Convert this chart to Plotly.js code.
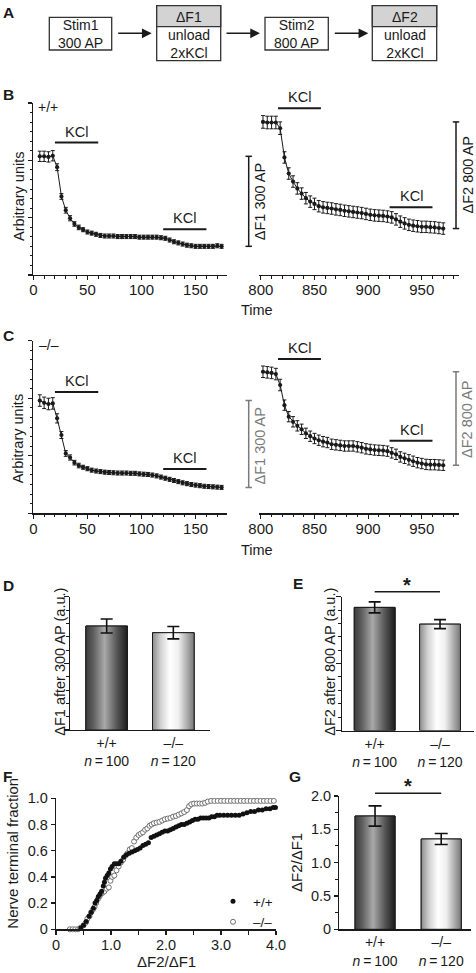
<!DOCTYPE html>
<html><head><meta charset="utf-8">
<script src="https://cdn.plot.ly/plotly-3.0.1.min.js"></script>
<style>html,body{margin:0;padding:0;background:#fff}</style>
</head><body><div id="chart" style="width:476px;height:973px"></div>
<script>
// ---------------- DATA ----------------
const timeStim1 = [6,10,14,18,22,26,30,34,38,42,46,50,54,58,62,66,70,74,78,82,86,90,94,98,102,106,110,114,118,122,126,130,134,138,142,146,150,154,158,162,166,170,174];
const timeStim2 = [802,806,810,814,818,822,826,830,834,838,842,846,850,854,858,862,866,870,874,878,882,886,890,894,898,902,906,910,914,918,922,926,930,934,938,942,946,950,954,958,962,966,970];

const wtStim1 = [2.07,2.07,2.06,2.08,1.88,1.37,1.13,0.99,0.89,0.83,0.79,0.75,0.73,0.71,0.69,0.68,0.68,0.68,0.67,0.67,0.67,0.67,0.67,0.66,0.66,0.66,0.66,0.66,0.65,0.64,0.61,0.58,0.56,0.54,0.52,0.51,0.50,0.50,0.50,0.50,0.50,0.51,0.50];
const wtStim1Err = [0.09,0.09,0.09,0.09,0.06,0.05,0.05,0.045,0.04,0.04,0.035,0.035,0.035,0.035,0.035,0.035,0.035,0.035,0.035,0.035,0.035,0.035,0.035,0.035,0.035,0.035,0.035,0.035,0.035,0.035,0.035,0.035,0.035,0.035,0.035,0.035,0.035,0.035,0.035,0.035,0.035,0.035,0.035];
const wtStim2 = [2.67,2.66,2.66,2.66,2.56,2.05,1.77,1.63,1.51,1.42,1.34,1.28,1.24,1.20,1.18,1.17,1.16,1.145,1.135,1.12,1.11,1.10,1.09,1.08,1.065,1.05,1.04,1.035,1.03,1.02,1.005,0.97,0.93,0.90,0.875,0.86,0.85,0.84,0.84,0.835,0.83,0.82,0.81];
const wtStim2Err = [0.11,0.11,0.11,0.11,0.11,0.10,0.10,0.10,0.10,0.10,0.10,0.10,0.10,0.10,0.10,0.10,0.10,0.10,0.10,0.10,0.10,0.10,0.10,0.10,0.10,0.10,0.10,0.10,0.10,0.10,0.10,0.10,0.10,0.10,0.10,0.10,0.10,0.10,0.10,0.10,0.10,0.10,0.10];

const koStim1 = [1.96,1.92,1.90,1.91,1.65,1.36,1.04,0.97,0.88,0.83,0.80,0.775,0.75,0.735,0.725,0.715,0.71,0.705,0.70,0.70,0.70,0.695,0.695,0.685,0.68,0.675,0.665,0.65,0.63,0.61,0.59,0.57,0.55,0.53,0.515,0.50,0.49,0.48,0.47,0.465,0.46,0.455,0.45];
const koStim1Err = [0.1,0.1,0.1,0.1,0.08,0.06,0.05,0.045,0.04,0.04,0.035,0.035,0.035,0.035,0.035,0.035,0.035,0.035,0.035,0.035,0.035,0.035,0.035,0.035,0.035,0.035,0.035,0.035,0.035,0.035,0.035,0.035,0.035,0.035,0.035,0.035,0.035,0.035,0.035,0.035,0.035,0.035,0.035];
const koStim2 = [2.46,2.45,2.44,2.42,2.23,1.88,1.68,1.59,1.52,1.46,1.39,1.34,1.30,1.27,1.245,1.23,1.20,1.19,1.18,1.17,1.17,1.17,1.155,1.14,1.12,1.11,1.10,1.095,1.09,1.08,1.05,1.025,0.98,0.955,0.93,0.905,0.88,0.865,0.85,0.845,0.845,0.84,0.835];
const koStim2Err = [0.1,0.1,0.1,0.1,0.1,0.09,0.09,0.09,0.09,0.09,0.09,0.09,0.09,0.09,0.09,0.09,0.09,0.09,0.09,0.09,0.09,0.09,0.09,0.09,0.09,0.09,0.09,0.09,0.09,0.09,0.09,0.09,0.09,0.09,0.09,0.09,0.09,0.09,0.09,0.09,0.09,0.09,0.09];

const genotypeLabels = ['+/+<br><i>n</i>\u2009=\u2009100', '\u2013/\u2013<br><i>n</i>\u2009=\u2009120'];
const dF1Mean = [1.56, 1.46];
const dF1Err = [0.105, 0.093];
const dF2Mean = [1.84, 1.59];
const dF2Err = [0.082, 0.067];
const ratioMean = [1.70, 1.355];
const ratioErr = [0.152, 0.083];

const wtRatioX = [0.45,0.50,0.55,0.60,0.64,0.68,0.71,0.74,0.77,0.80,0.83,0.86,0.88,0.90,0.93,0.96,0.99,1.02,1.06,1.10,1.14,1.18,1.23,1.28,1.33,1.38,1.43,1.48,1.53,1.58,1.63,1.68,1.73,1.78,1.83,1.88,1.93,1.98,2.03,2.08,2.13,2.18,2.23,2.28,2.33,2.38,2.43,2.48,2.53,2.58,2.63,2.68,2.73,2.78,2.83,2.88,2.93,2.98,3.05,3.12,3.19,3.26,3.33,3.40,3.47,3.54,3.61,3.68,3.75,3.82,3.89,3.95,3.99];
const wtFraction = [0.01,0.03,0.06,0.10,0.13,0.16,0.20,0.22,0.25,0.27,0.29,0.33,0.36,0.39,0.41,0.43,0.46,0.48,0.50,0.50,0.50,0.52,0.55,0.57,0.58,0.59,0.60,0.61,0.62,0.64,0.65,0.66,0.70,0.71,0.72,0.73,0.74,0.75,0.75,0.76,0.77,0.78,0.79,0.80,0.80,0.81,0.82,0.83,0.84,0.84,0.85,0.85,0.85,0.85,0.86,0.86,0.87,0.87,0.87,0.87,0.87,0.87,0.87,0.88,0.89,0.90,0.90,0.91,0.91,0.92,0.92,0.93,0.93];
const koRatioX = [0.25,0.30,0.35,0.40,0.44,0.50,0.54,0.57,0.61,0.64,0.67,0.70,0.73,0.76,0.79,0.82,0.85,0.88,0.92,0.96,0.99,1.02,1.06,1.10,1.14,1.18,1.22,1.26,1.30,1.34,1.38,1.42,1.46,1.50,1.54,1.58,1.62,1.66,1.70,1.74,1.78,1.83,1.88,1.93,1.98,2.03,2.08,2.13,2.18,2.23,2.28,2.33,2.38,2.42,2.46,2.51,2.56,2.61,2.66,2.71,2.76,2.82,2.88,2.94,3.00,3.06,3.12,3.18,3.24,3.30,3.36,3.42,3.48,3.54,3.60,3.66,3.72,3.78,3.84,3.90,3.96];
const koFraction = [0,0,0,0,0.01,0.03,0.05,0.08,0.10,0.13,0.15,0.17,0.20,0.23,0.25,0.27,0.28,0.29,0.31,0.32,0.37,0.40,0.41,0.45,0.48,0.51,0.53,0.56,0.58,0.61,0.62,0.67,0.70,0.72,0.73,0.74,0.76,0.77,0.79,0.80,0.81,0.815,0.82,0.83,0.84,0.845,0.85,0.86,0.865,0.875,0.885,0.895,0.91,0.94,0.955,0.96,0.96,0.96,0.96,0.965,0.975,0.98,0.98,0.98,0.98,0.98,0.98,0.98,0.98,0.98,0.98,0.98,0.98,0.98,0.98,0.98,0.98,0.98,0.98,0.98,0.98];

// ---------------- HELPERS ----------------
const W = 476, H = 973;
const px = x => x / W;
const py = y => 1 - y / H;
const FF = 'Liberation Sans, Arial, Helvetica, sans-serif';
const INK = '#1a1a1a';

function axis(extra) {
  return Object.assign({
    showline: true, linecolor: INK, linewidth: 1.2,
    ticks: 'outside', ticklen: 5, tickwidth: 1.2, tickcolor: INK,
    showgrid: false, zeroline: false, fixedrange: true,
    tickfont: {family: FF, size: 15, color: INK}
  }, extra);
}
function minorTicks(d, len) {
  return {dtick: d, ticks: 'outside', ticklen: len || 3, tickwidth: 1, tickcolor: INK, showgrid: false};
}
function timeTrace(x, y, e, xa, ya) {
  return {type: 'scatter', mode: 'lines+markers', x: x, y: y, xaxis: xa, yaxis: ya,
    line: {color: INK, width: 1}, marker: {color: INK, size: 4.2},
    error_y: {type: 'data', array: e, visible: true, color: INK, thickness: 1, width: 2},
    showlegend: false, cliponaxis: false, hoverinfo: 'skip'};
}
const gradWT = [[0, '#3c3c3c'], [0.18, '#5e5e5e'], [0.45, '#a9a9a9'], [0.75, '#555555'], [1, '#1c1c1c']];
const gradKO = [[0, '#8c8c8c'], [0.2, '#d2d2d2'], [0.42, '#ffffff'], [0.62, '#f0f0f0'], [1, '#777777']];
function barSet(xa, ya, means, errs, w, errWidth) {
  const out = [];
  out.push({type: 'bar', x: [0, 1], y: means, width: [w, w], xaxis: xa, yaxis: ya,
    marker: {color: ['#777777', '#e6e6e6'], line: {color: INK, width: 1}},
    showlegend: false, hoverinfo: 'skip'});
  [gradWT, gradKO].forEach((cs, i) => {
    out.push({type: 'scatter', mode: 'lines', xaxis: xa, yaxis: ya,
      x: [i - w / 2, i - w / 2, i + w / 2, i + w / 2, i - w / 2],
      y: [0, means[i], means[i], 0, 0],
      fill: 'toself', fillcolor: i ? '#e6e6e6' : '#777777',
      fillgradient: {type: 'horizontal', colorscale: cs},
      line: {color: INK, width: 1}, showlegend: false, hoverinfo: 'skip'});
  });
  out.push({type: 'scatter', mode: 'markers', x: [0, 1], y: means, xaxis: xa, yaxis: ya,
    marker: {size: 1, color: 'rgba(0,0,0,0)'},
    error_y: {type: 'data', array: errs, visible: true, color: '#111', thickness: 1.6, width: errWidth},
    showlegend: false, hoverinfo: 'skip', cliponaxis: false});
  return out;
}

// ---------------- TRACES ----------------
const traces = [
  timeTrace(timeStim1, wtStim1, wtStim1Err, 'x', 'y'),
  timeTrace(timeStim2, wtStim2, wtStim2Err, 'x2', 'y2'),
  timeTrace(timeStim1, koStim1, koStim1Err, 'x3', 'y3'),
  timeTrace(timeStim2, koStim2, koStim2Err, 'x4', 'y4'),
  ...barSet('x5', 'y5', dF1Mean, dF1Err, 0.625, 6),
  ...barSet('x6', 'y6', dF2Mean, dF2Err, 0.625, 6),
  {type: 'scatter', mode: 'markers', name: '\u2013/\u2013', x: koRatioX, y: koFraction, xaxis: 'x7', yaxis: 'y7',
    marker: {symbol: 'circle', size: 5, color: 'white', line: {color: '#707070', width: 1}},
    cliponaxis: false, legendrank: 2, hoverinfo: 'skip'},
  {type: 'scatter', mode: 'markers', name: '+/+', x: wtRatioX, y: wtFraction, xaxis: 'x7', yaxis: 'y7',
    marker: {symbol: 'circle', size: 5, color: '#111'},
    cliponaxis: false, legendrank: 1, hoverinfo: 'skip'},
  ...barSet('x8', 'y8', ratioMean, ratioErr, 0.605, 6.5)
];

// ---------------- LAYOUT ----------------
const yB = [py(275), py(103)];
const yC = [py(513.3), py(340.7)];
const xLeft = [px(33.3), px(227)];
const xRight = [px(258.7), px(459.3)];
const timeX = {ticklen: 4, ticklabelstandoff: -3, minor: minorTicks(10, 2.5)};

const layout = {
  width: W, height: H, margin: {l: 0, r: 0, t: 0, b: 0},
  paper_bgcolor: 'white', plot_bgcolor: 'rgba(0,0,0,0)',
  font: {family: FF, size: 14, color: INK},
  barmode: 'overlay', showlegend: true,
  legend: {x: px(213), xanchor: 'left', y: py(886), yanchor: 'top', bgcolor: 'rgba(0,0,0,0)',
    font: {family: FF, size: 13.5, color: INK}, itemwidth: 30, tracegroupgap: 0},

  xaxis:  axis(Object.assign({domain: xLeft, range: [0, 179], anchor: 'y', tickvals: [0, 50, 100, 150]}, timeX)),
  yaxis:  axis({domain: yB, range: [0, 3], anchor: 'x', dtick: 1, ticklen: 4, showticklabels: false, minor: minorTicks(1 / 6, 2.5)}),
  xaxis2: axis(Object.assign({domain: xRight, range: [798, 985], anchor: 'y2', tickvals: [800, 850, 900, 950]}, timeX)),
  yaxis2: {domain: yB, range: [0, 3], anchor: 'x2', visible: false, fixedrange: true},
  xaxis3: axis(Object.assign({domain: xLeft, range: [0, 179], anchor: 'y3', tickvals: [0, 50, 100, 150]}, timeX)),
  yaxis3: axis({domain: yC, range: [0, 3], anchor: 'x3', dtick: 1, ticklen: 4, showticklabels: false, minor: minorTicks(1 / 6, 2.5)}),
  xaxis4: axis(Object.assign({domain: xRight, range: [798, 985], anchor: 'y4', tickvals: [800, 850, 900, 950]}, timeX)),
  yaxis4: {domain: yC, range: [0, 3], anchor: 'x4', visible: false, fixedrange: true},

  xaxis5: axis({domain: [px(70), px(210)], range: [-0.55, 1.55], anchor: 'y5', ticks: '', tickvals: [0, 1], ticktext: genotypeLabels, tickfont: {family: FF, size: 14, color: INK}}),
  yaxis5: axis({domain: [py(730), py(596.7)], range: [0, 2], anchor: 'x5', dtick: 1, showticklabels: false, minor: minorTicks(0.2)}),
  xaxis6: axis({domain: [px(342), px(474)], range: [-0.5, 1.52], anchor: 'y6', ticks: '', tickvals: [0, 1], ticktext: genotypeLabels, tickfont: {family: FF, size: 14, color: INK}}),
  yaxis6: axis({domain: [py(730.5), py(596.7)], range: [0, 2], anchor: 'x6', dtick: 1, showticklabels: false, minor: minorTicks(0.2)}),

  xaxis7: axis({domain: [px(56), px(276)], range: [0, 4], anchor: 'y7',
    tickvals: [0, 0.5, 1, 1.5, 2, 2.5, 3, 3.5, 4], ticktext: ['0', '', '1.0', '', '2.0', '', '3.0', '', '4.0'], ticklen: 4,
    ticklabelstandoff: -2, tickfont: {family: FF, size: 14.5, color: INK}}),
  yaxis7: axis({domain: [py(929.3), py(798.3)], range: [0, 1], anchor: 'x7',
    tickvals: [0, 0.2, 0.4, 0.6, 0.8, 1], ticktext: ['0', '0.2', '0.4', '0.6', '0.8', '1.0'], ticklen: 4,
    tickfont: {family: FF, size: 14.5, color: INK}}),
  xaxis8: axis({domain: [px(339.3), px(471)], range: [-0.54, 1.45], anchor: 'y8', ticks: '', tickvals: [0, 1], ticktext: genotypeLabels, tickfont: {family: FF, size: 14, color: INK}}),
  yaxis8: axis({domain: [py(929.3), py(796)], range: [0, 2], anchor: 'x8',
    tickvals: [0, 0.5, 1, 1.5, 2], ticktext: ['0', '0.5', '1.0', '1.5', '2.0'], ticklen: 4,
    minor: minorTicks(0.25), tickfont: {family: FF, size: 14.5, color: INK}})
};

// ---------------- SHAPES ----------------
const shapes = [];
function pbox(x0, x1, y0, y1, fill) {
  shapes.push({type: 'rect', xref: 'paper', yref: 'paper', x0: px(x0), x1: px(x1), y0: py(y1), y1: py(y0),
    line: {color: '#333', width: 1.3}, fillcolor: fill || 'white'});
}
pbox(49.3, 111.7, 17.3, 50);
pbox(156.7, 220.7, 5.7, 60.7); pbox(156.7, 220.7, 5.7, 26.7, '#d3d3d3');
pbox(265, 328.3, 17.3, 50);
pbox(372.3, 436.7, 5.7, 60.7); pbox(372.3, 436.7, 5.7, 26.7, '#d3d3d3');

function kcl(xa, ya, x0, x1, y) {
  shapes.push({type: 'line', xref: xa, yref: ya, x0: x0, x1: x1, y0: y, y1: y, line: {color: INK, width: 2}});
}
kcl('x', 'y', 20, 60, 2.31); kcl('x', 'y', 120, 160, 0.80);
kcl('x2', 'y2', 816, 856, 2.91); kcl('x2', 'y2', 920, 960, 1.18);
kcl('x3', 'y3', 20, 60, 2.11); kcl('x3', 'y3', 120, 160, 0.77);
kcl('x4', 'y4', 816, 856, 2.68); kcl('x4', 'y4', 920, 960, 1.26);

// delta-F brackets (span first to last value of each trace)
function bracket(xPix, ya, top, bottom, color) {
  const xp = px(xPix), c = px(3.2);
  const l = {color: color, width: 1.5};
  shapes.push({type: 'line', xref: 'paper', yref: ya, x0: xp, x1: xp, y0: bottom, y1: top, line: l});
  shapes.push({type: 'line', xref: 'paper', yref: ya, x0: xp - c, x1: xp + c, y0: top, y1: top, line: l});
  shapes.push({type: 'line', xref: 'paper', yref: ya, x0: xp - c, x1: xp + c, y0: bottom, y1: bottom, line: l});
}
const last = a => a[a.length - 1];
bracket(248.7, 'y2', wtStim1[0], last(wtStim1), INK);
bracket(456, 'y2', wtStim2[0], last(wtStim2), INK);
bracket(248.7, 'y4', koStim1[0], last(koStim1), '#7a7a7a');
bracket(456, 'y4', koStim2[0], last(koStim2), '#7a7a7a');

// significance lines
shapes.push({type: 'line', xref: 'x6', yref: 'paper', x0: 0, x1: 1, y0: py(591.7), y1: py(591.7), line: {color: INK, width: 1.5}});
shapes.push({type: 'line', xref: 'x8', yref: 'paper', x0: 0, x1: 1, y0: py(793.3), y1: py(793.3), line: {color: INK, width: 1.5}});
layout.shapes = shapes;

// ---------------- ANNOTATIONS ----------------
const ann = [];
function txt(x, y, text, o) {
  o = o || {};
  ann.push(Object.assign({xref: 'paper', yref: 'paper', x: px(x), y: py(y), text: text, showarrow: false,
    xanchor: 'center', yanchor: 'middle',
    font: {family: FF, size: o.size || 14.5, color: o.color || INK}}, o.extra || {}));
}
function label(x, y, t) { txt(x, y, '<b>' + t + '</b>', {size: 15.5}); }
label(8, 13, 'A'); label(8, 94, 'B'); label(8, 335, 'C'); label(8, 585, 'D');
label(297.5, 583.5, 'E'); label(7.5, 776.5, 'F'); label(295, 776.5, 'G');

// panel A text
txt(80.5, 33.6, 'Stim1<br>300 AP', {size: 14});
txt(188.7, 16.5, '\u0394F1', {size: 14});
txt(188.7, 43.5, 'unload<br>2xKCl', {size: 14});
txt(296.7, 33.6, 'Stim2<br>800 AP', {size: 14});
txt(404.5, 16.5, '\u0394F2', {size: 14});
txt(404.5, 43.5, 'unload<br>2xKCl', {size: 14});
[[116.7, 151.7], [225, 260], [333.3, 368.3]].forEach(a => {
  ann.push({xref: 'paper', yref: 'paper', x: px(a[1]), y: py(33.3), ax: -(a[1] - a[0]), ay: 0, text: '',
    showarrow: true, arrowhead: 2, arrowsize: 1.3, arrowwidth: 1.5, arrowcolor: INK});
});

// genotype tags
txt(48, 107, '+/+', {size: 14});
txt(48.5, 345, '\u2013/\u2013', {size: 14});

// KCl labels
function kclText(xa, ya, x, y) {
  ann.push({xref: xa, yref: ya, x: x, y: y, text: 'KCl', showarrow: false, xanchor: 'center', yanchor: 'bottom',
    yshift: 1, font: {family: FF, size: 14.5, color: INK}});
}
kclText('x', 'y', 40, 2.31); kclText('x', 'y', 140, 0.80);
kclText('x2', 'y2', 836, 2.91); kclText('x2', 'y2', 940, 1.18);
kclText('x3', 'y3', 40, 2.11); kclText('x3', 'y3', 140, 0.77);
kclText('x4', 'y4', 836, 2.68); kclText('x4', 'y4', 940, 1.26);

// axis titles
const rot = {textangle: -90};
txt(18.3, 196.7, 'Arbitrary units', {extra: rot});
txt(18.3, 439, 'Arbitrary units', {extra: rot});
txt(257, 310, 'Time');
txt(257, 550, 'Time');
txt(259.5, 201.7, '\u0394F1 300 AP', {extra: rot});
txt(467.5, 175, '\u0394F2 800 AP', {extra: rot});
txt(259.5, 446, '\u0394F1 300 AP', {extra: rot, color: '#7a7a7a'});
txt(467, 420, '\u0394F2 800 AP', {extra: rot, color: '#7a7a7a'});
txt(60, 661.7, '\u0394F1 after 300 AP (a.u.)', {extra: rot});
txt(329.3, 661.5, '\u0394F2 after 800 AP (a.u.)', {extra: rot});
txt(11.7, 853, 'Nerve terminal fraction', {extra: rot, size: 15});
txt(166.7, 961, '\u0394F2/\u0394F1', {size: 15});
txt(296, 863, '\u0394F2/\u0394F1', {extra: rot, size: 15});

// stars
ann.push({xref: 'x6', yref: 'paper', x: 0.5, y: py(591.7), text: '<b>*</b>', showarrow: false, xanchor: 'center', yanchor: 'bottom', yshift: -6, font: {family: FF, size: 20, color: INK}});
ann.push({xref: 'x8', yref: 'paper', x: 0.5, y: py(793.3), text: '<b>*</b>', showarrow: false, xanchor: 'center', yanchor: 'bottom', yshift: -6, font: {family: FF, size: 20, color: INK}});

layout.annotations = ann;

Plotly.newPlot('chart', traces, layout, {staticPlot: true, displayModeBar: false});
</script>
</body></html>
